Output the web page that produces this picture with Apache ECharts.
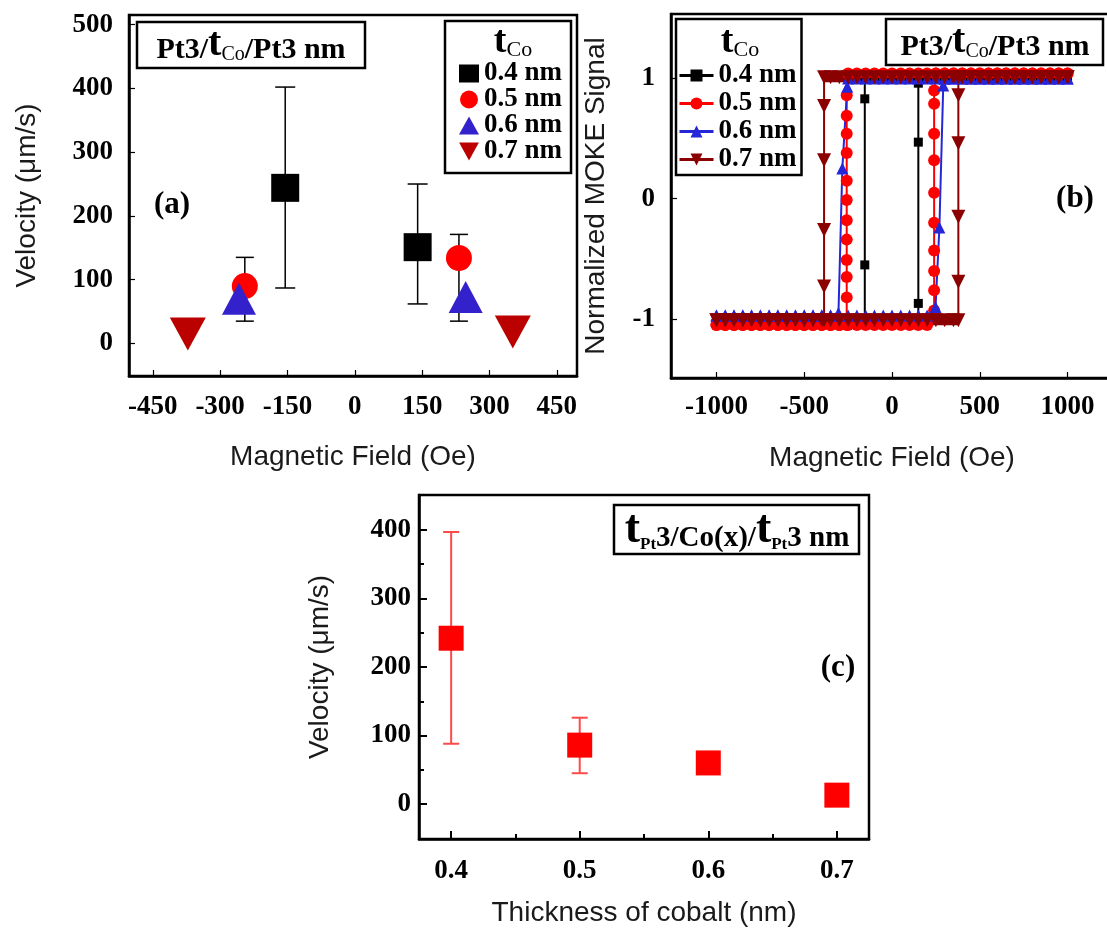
<!DOCTYPE html>
<html><head><meta charset="utf-8">
<script src="https://cdn.jsdelivr.net/npm/echarts@6/dist/echarts.min.js"></script>
<style>html,body{margin:0;padding:0;background:#fff}#c{width:1107px;height:931px}</style>
</head><body><div id="c"></div>
<script>
// ---------- Panel (a): velocity vs magnetic field ----------
const fieldTicksA = [-450, -300, -150, 0, 150, 300, 450];
const velTicksA = [0, 100, 200, 300, 400, 500];
const va04 = [[-155, 244], [140, 151]];
const va05 = [[-245, 90], [232, 134]];
const va06 = [[-258, 70], [247, 73]];
const va07 = [[-372, 15], [352, 18]];
const errA04 = [[-155, 87, 402], [140, 62, 250]];
const errA05 = [[-245, 35, 135], [232, 35, 171]];

// ---------- Panel (b): MOKE hysteresis loops ----------
const fieldTicksB = [-1000, -500, 0, 500, 1000];
const mokeTicksB = [-1, 0, 1];
const mokeDesc04 = [[1000,1],[900,1],[800,1],[700,1],[600,1],[500,1],[400,1],[300,1],[200,1],[100,1],[0,1],[-100,1],[-155,1],[-155,0.83],[-155,-0.55],[-155,-1],[-200,-1],[-300,-1],[-400,-1],[-500,-1],[-600,-1],[-700,-1],[-800,-1],[-900,-1],[-1000,-1]];
const mokeAsc04 = [[-1000,-1],[-900,-1],[-800,-1],[-700,-1],[-600,-1],[-500,-1],[-400,-1],[-300,-1],[-200,-1],[-100,-1],[0,-1],[100,-1],[150,-1],[150,-0.87],[150,0.47],[150,0.96],[150,1],[200,1],[300,1],[400,1],[500,1],[600,1],[700,1],[800,1],[900,1],[1000,1]];
const mokeDesc05 = [[1000,1.04],[950,1.04],[900,1.04],[850,1.04],[800,1.04],[750,1.04],[700,1.04],[650,1.04],[600,1.04],[550,1.04],[500,1.04],[450,1.04],[400,1.04],[350,1.04],[300,1.04],[250,1.04],[200,1.04],[150,1.04],[100,1.04],[50,1.04],[0,1.04],[-50,1.04],[-100,1.04],[-150,1.04],[-200,1.04],[-250,1.04],[-258,0.86],[-258,0.69],[-258,0.54],[-258,0.38],[-258,0.15],[-258,-0.01],[-258,-0.18],[-258,-0.34],[-258,-0.51],[-258,-0.65],[-258,-0.82],[-258,-1.05],[-300,-1.05],[-350,-1.05],[-400,-1.05],[-450,-1.05],[-500,-1.05],[-550,-1.05],[-600,-1.05],[-650,-1.05],[-700,-1.05],[-750,-1.05],[-800,-1.05],[-850,-1.05],[-900,-1.05],[-950,-1.05],[-1000,-1.05]];
const mokeAsc05 = [[-1000,-1.05],[-950,-1.05],[-900,-1.05],[-850,-1.05],[-800,-1.05],[-750,-1.05],[-700,-1.05],[-650,-1.05],[-600,-1.05],[-550,-1.05],[-500,-1.05],[-450,-1.05],[-400,-1.05],[-350,-1.05],[-300,-1.05],[-250,-1.05],[-200,-1.05],[-150,-1.05],[-100,-1.05],[-50,-1.05],[0,-1.05],[50,-1.05],[100,-1.05],[150,-1.05],[200,-1.05],[240,-0.93],[240,-0.76],[240,-0.6],[240,-0.43],[240,-0.2],[240,0.05],[240,0.32],[240,0.54],[240,0.79],[240,0.9],[250,1.04],[300,1.04],[350,1.04],[400,1.04],[450,1.04],[500,1.04],[550,1.04],[600,1.04],[650,1.04],[700,1.04],[750,1.04],[800,1.04],[850,1.04],[900,1.04],[950,1.04],[1000,1.04]];
const mokeDesc06 = [[1000,1],[950,1],[900,1],[850,1],[800,1],[750,1],[700,1],[650,1],[600,1],[550,1],[500,1],[450,1],[400,1],[350,1],[300,1],[250,1],[200,1],[150,1],[100,1],[50,1],[0,1],[-50,1],[-100,1],[-150,1],[-200,1],[-250,1],[-255,0.93],[-283,0.25],[-305,-0.95],[-350,-0.97],[-400,-0.97],[-450,-0.97],[-500,-0.97],[-550,-0.97],[-600,-0.97],[-650,-0.97],[-700,-0.97],[-750,-0.97],[-800,-0.97],[-850,-0.97],[-900,-0.97],[-950,-0.97],[-1000,-0.97]];
const mokeAsc06 = [[-1000,-0.97],[-950,-0.97],[-900,-0.97],[-850,-0.97],[-800,-0.97],[-750,-0.97],[-700,-0.97],[-650,-0.97],[-600,-0.97],[-550,-0.97],[-500,-0.97],[-450,-0.97],[-400,-0.97],[-350,-0.97],[-300,-0.97],[-250,-0.97],[-200,-0.97],[-150,-0.97],[-100,-0.97],[-50,-0.97],[0,-0.97],[50,-0.97],[100,-0.97],[150,-0.97],[200,-0.97],[248,-0.9],[270,-0.24],[292,0.94],[300,1],[350,1],[400,1],[450,1],[500,1],[550,1],[600,1],[650,1],[700,1],[750,1],[800,1],[850,1],[900,1],[950,1],[1000,1]];
const mokeDesc07 = [[1000,1.01],[950,1.01],[900,1.01],[850,1.01],[800,1.01],[750,1.01],[700,1.01],[650,1.01],[600,1.01],[550,1.01],[500,1.01],[450,1.01],[400,1.01],[350,1.01],[300,1.01],[250,1.01],[200,1.01],[150,1.01],[100,1.01],[50,1.01],[0,1.01],[-50,1.01],[-100,1.01],[-150,1.01],[-200,1.01],[-250,1.01],[-300,1.01],[-350,1.01],[-387,1.01],[-387,0.77],[-387,0.32],[-387,-0.26],[-387,-0.73],[-387,-1.01],[-450,-1.01],[-500,-1.01],[-550,-1.01],[-600,-1.01],[-650,-1.01],[-700,-1.01],[-750,-1.01],[-800,-1.01],[-850,-1.01],[-900,-1.01],[-950,-1.01],[-1000,-1.01]];
const mokeAsc07 = [[-1000,-1.01],[-950,-1.01],[-900,-1.01],[-850,-1.01],[-800,-1.01],[-750,-1.01],[-700,-1.01],[-650,-1.01],[-600,-1.01],[-550,-1.01],[-500,-1.01],[-450,-1.01],[-400,-1.01],[-350,-1.01],[-300,-1.01],[-250,-1.01],[-200,-1.01],[-150,-1.01],[-100,-1.01],[-50,-1.01],[0,-1.01],[50,-1.01],[100,-1.01],[150,-1.01],[200,-1.01],[250,-1.01],[300,-1.01],[350,-1.01],[378,-1.01],[378,-0.69],[378,-0.15],[378,0.46],[378,0.86],[378,1.01],[400,1.01],[450,1.01],[500,1.01],[550,1.01],[600,1.01],[650,1.01],[700,1.01],[750,1.01],[800,1.01],[850,1.01],[900,1.01],[950,1.01],[1000,1.01]];

// ---------- Panel (c): velocity vs cobalt thickness ----------
const thicknessC = [0.4, 0.5, 0.6, 0.7];
const velocityC = [242, 86, 60, 13];
const errC = [[0.4, 88, 397], [0.5, 45, 126]];
const thickTicksC = [0.4, 0.5, 0.6, 0.7];
const thickMinorC = [0.45, 0.55, 0.65];
const velTicksC = [0, 100, 200, 300, 400];
const velMinorC = [50, 150, 250, 350];

const SERIF = "'Liberation Serif','Times New Roman',serif";
const SANS = "'Liberation Sans',Arial,sans-serif";
const nameStyle = {fontFamily: SANS, fontSize: 28, color: '#1a1a1a'};

function errorBars(color, cap, width) {
  return function (params, api) {
    const x = api.value(0), lo = api.value(1), hi = api.value(2);
    const a = api.coord([x, lo]), b = api.coord([x, hi]);
    const st = {stroke: color, lineWidth: width, fill: null};
    return {type: 'group', children: [
      {type: 'line', shape: {x1: a[0], y1: a[1], x2: b[0], y2: b[1]}, style: st},
      {type: 'line', shape: {x1: a[0] - cap / 2, y1: a[1], x2: a[0] + cap / 2, y2: a[1]}, style: st},
      {type: 'line', shape: {x1: b[0] - cap / 2, y1: b[1], x2: b[0] + cap / 2, y2: b[1]}, style: st}
    ]};
  };
}

function axis(o) {
  const base = {
    type: 'value', gridIndex: o.grid, min: o.min, max: o.max,
    splitLine: {show: false},
    axisLine: {show: o.line !== false, onZero: false, lineStyle: {color: '#000', width: 2.5}},
    axisTick: {show: true, inside: true, length: o.tickLen || 6, customValues: o.ticks,
      lineStyle: {color: '#000', width: o.tickWidth || 1.2}},
    axisLabel: o.labels === false ? {show: false} : {customValues: o.ticks, color: '#000', fontFamily: SERIF,
      fontSize: o.fontSize || 27, fontWeight: 'bold', margin: o.margin, formatter: v => String(v)},
    nameMoveOverlap: false
  };
  if (o.position) base.position = o.position;
  if (o.name) {
    base.name = o.name; base.nameLocation = 'middle'; base.nameGap = o.nameGap; base.nameTextStyle = nameStyle;
  }
  return base;
}

const chart = echarts.init(document.getElementById('c'), null, {width: 1107, height: 931});

const tCoRich = {
  t: {fontFamily: SERIF, fontSize: 38, fontWeight: 'bold', fill: '#000', color: '#000', verticalAlign: 'bottom'},
  c: {fontFamily: SERIF, fontSize: 22, fill: '#000', color: '#000', verticalAlign: 'bottom'}
};
const stackRich = {
  n: {fontFamily: SERIF, fontSize: 30, fontWeight: 'bold', fill: '#000', color: '#000', verticalAlign: 'bottom'},
  t: {fontFamily: SERIF, fontSize: 40, fontWeight: 'bold', fill: '#000', color: '#000', verticalAlign: 'bottom'},
  s: {fontFamily: SERIF, fontSize: 20, fill: '#000', color: '#000', verticalAlign: 'bottom'}
};
const stackRichC = {
  n: {fontFamily: SERIF, fontSize: 29, fontWeight: 'bold', fill: '#000', color: '#000', verticalAlign: 'bottom'},
  t: {fontFamily: SERIF, fontSize: 46, fontWeight: 'bold', fill: '#000', color: '#000', verticalAlign: 'bottom'},
  s: {fontFamily: SERIF, fontSize: 17, fontWeight: 'bold', fill: '#000', color: '#000', verticalAlign: 'bottom'}
};
function txt(x, y, text, rich, font) {
  const st = {text: text, x: x, y: y, align: 'center', verticalAlign: 'middle', textAlign: 'center',
    textVerticalAlign: 'middle', fill: '#000'};
  if (rich) st.rich = rich;
  if (font) st.font = font;
  return {type: 'text', z: 100, style: st};
}
function box(x, y, w, h) {
  return {type: 'rect', z: 99, shape: {x: x, y: y, width: w, height: h},
    style: {fill: '#fff', stroke: '#000', lineWidth: 2.5}};
}

const lineSeries = (name, data, color, symbol, size, rotate) => ({
  type: 'line', name: name, xAxisIndex: 1, yAxisIndex: 1, data: data,
  symbol: symbol, symbolSize: size, symbolRotate: rotate || 0, showSymbol: true,
  lineStyle: {color: color, width: 2}, itemStyle: {color: color}, z: 3
});
// saturated (horizontal) parts of a branch, drawn as a dense band under the markers
const bandSeries = (data, color, width) => ({
  type: 'line', name: 'band', xAxisIndex: 1, yAxisIndex: 1,
  data: data.map(p => (Math.abs(p[1]) >= 0.97 ? p : [p[0], '-'])),
  symbol: 'none', connectNulls: false, silent: true,
  lineStyle: {color: color, width: width}, z: 3
});

const option = {
  backgroundColor: '#fff',
  animation: false,
  grid: [
    {left: 129, top: 15, width: 448, height: 361, show: true, borderColor: '#000', borderWidth: 2.5, outerBoundsMode: 'none'},
    {left: 671, top: 14, width: 442, height: 364, show: true, borderColor: '#000', borderWidth: 2.5, outerBoundsMode: 'none'},
    {left: 419, top: 495, width: 450, height: 344, show: true, borderColor: '#000', borderWidth: 2.5, outerBoundsMode: 'none'}
  ],
  xAxis: [
    axis({grid: 0, min: -503, max: 495, ticks: fieldTicksA, margin: 18, name: 'Magnetic Field (Oe)', nameGap: 67}),
    axis({grid: 1, min: -1259, max: 1259, ticks: fieldTicksB, margin: 16, name: 'Magnetic Field (Oe)', nameGap: 66}),
    axis({grid: 2, min: 0.375, max: 0.725, ticks: thickTicksC, margin: 19, tickLen: 8, tickWidth: 2,
      name: 'Thickness of cobalt (nm)', nameGap: 60}),
    axis({grid: 2, min: 0.375, max: 0.725, ticks: thickMinorC, labels: false, line: false, tickLen: 5, tickWidth: 2, position: 'bottom'})
  ],
  yAxis: [
    axis({grid: 0, min: -51, max: 515, ticks: velTicksA, margin: 16, name: 'Velocity (\u03bcm/s)', nameGap: 88}),
    axis({grid: 1, min: -1.49, max: 1.535, ticks: mokeTicksB, margin: 16, name: 'Normalized MOKE Signal', nameGap: 61}),
    axis({grid: 2, min: -51, max: 451, ticks: velTicksC, margin: 8, tickLen: 8, tickWidth: 2,
      name: 'Velocity (\u03bcm/s)', nameGap: 85}),
    axis({grid: 2, min: -51, max: 451, ticks: velMinorC, labels: false, line: false, tickLen: 5, tickWidth: 2, position: 'left'})
  ],
  legend: [
    {left: 445, top: 21, orient: 'vertical',
      data: ['a0.4', 'a0.5', 'a0.6', {name: 'a0.7', icon: 'path://M0,0 L22,0 L11,20 Z'}],
      formatter: n => n.slice(1) + ' nm', selectedMode: false,
      padding: [39, 9, 8, 14], itemWidth: 20, itemHeight: 18, itemGap: -1,
      textStyle: {fontFamily: SERIF, fontWeight: 'bold', fontSize: 27, color: '#000'},
      borderColor: '#000', borderWidth: 2.5, backgroundColor: '#fff', z: 50},
    {left: 676, top: 19, orient: 'vertical', data: ['b0.4', 'b0.5', 'b0.6', 'b0.7'],
      formatter: n => n.slice(1) + ' nm', selectedMode: false,
      padding: [43, 5, 2, 2], itemWidth: 34, itemHeight: 15, itemGap: 1,
      lineStyle: {width: 3},
      textStyle: {fontFamily: SERIF, fontWeight: 'bold', fontSize: 27, color: '#000'},
      borderColor: '#000', borderWidth: 2.5, backgroundColor: '#fff', z: 50}
  ],
  graphic: [
    box(137, 22, 228, 46),
    txt(251, 45, '{n|Pt3/}{t|t}{s|Co}{n|/Pt3 nm}', stackRich),
    txt(513, 42, '{t|t}{c|Co}', tCoRich),
    txt(172, 205, '(a)', null, "bold 31px 'Liberation Serif', serif"),
    box(886, 19, 217, 46),
    txt(995, 42, '{n|Pt3/}{t|t}{s|Co}{n|/Pt3 nm}', stackRich),
    txt(740, 42, '{t|t}{c|Co}', tCoRich),
    txt(1075, 199, '(b)', null, "bold 31px 'Liberation Serif', serif"),
    box(614, 505, 245, 49),
    txt(737, 530, '{t|t}{s|Pt}{n|3/Co(x)/}{t|t}{s|Pt}{n|3 nm}', stackRichC),
    txt(838, 668, '(c)', null, "bold 31px 'Liberation Serif', serif")
  ],
  series: [
    // panel (a)
    {type: 'custom', xAxisIndex: 0, yAxisIndex: 0, data: errA04, encode: {x: 0, y: [1, 2]},
      renderItem: errorBars('#000', 20, 1.5), z: 1},
    {type: 'custom', xAxisIndex: 0, yAxisIndex: 0, data: errA05, encode: {x: 0, y: [1, 2]},
      renderItem: errorBars('#000', 18, 1.5), z: 1},
    {type: 'scatter', name: 'a0.4', xAxisIndex: 0, yAxisIndex: 0, data: va04, symbol: 'rect', symbolSize: 28,
      itemStyle: {color: '#000', opacity: 1}, z: 2},
    {type: 'scatter', name: 'a0.5', xAxisIndex: 0, yAxisIndex: 0, data: va05, symbol: 'circle', symbolSize: 26,
      itemStyle: {color: '#ff0000', opacity: 1}, z: 2},
    {type: 'scatter', name: 'a0.6', xAxisIndex: 0, yAxisIndex: 0, data: va06, symbol: 'triangle', symbolSize: [34, 32],
      itemStyle: {color: '#3322cc', opacity: 1}, z: 2},
    {type: 'scatter', name: 'a0.7', xAxisIndex: 0, yAxisIndex: 0, data: va07, symbol: 'triangle', symbolSize: [36, 33],
      symbolRotate: 180, itemStyle: {color: '#bb0000', opacity: 1}, z: 2},
    // panel (b)
    lineSeries('b0.4', mokeDesc04, '#000', 'rect', 9),
    lineSeries('b0.4', mokeAsc04, '#000', 'rect', 9),
    lineSeries('b0.5', mokeDesc05, '#ff0000', 'circle', 12),
    lineSeries('b0.5', mokeAsc05, '#ff0000', 'circle', 12),
    lineSeries('b0.6', mokeDesc06, '#2626d9', 'triangle', 12),
    lineSeries('b0.6', mokeAsc06, '#2626d9', 'triangle', 12),
    bandSeries(mokeDesc05, '#ff0000', 7),
    bandSeries(mokeAsc05, '#ff0000', 7),
    bandSeries(mokeDesc07, '#8b0000', 10),
    bandSeries(mokeAsc07, '#8b0000', 10),
    lineSeries('b0.7', mokeDesc07, '#8b0000', 'triangle', 14, 180),
    lineSeries('b0.7', mokeAsc07, '#8b0000', 'triangle', 14, 180),
    // panel (c)
    {type: 'custom', xAxisIndex: 2, yAxisIndex: 2, data: errC, encode: {x: 0, y: [1, 2]},
      renderItem: errorBars('#ff4a4a', 16, 2), z: 1},
    {type: 'scatter', name: 'velocity', xAxisIndex: 2, yAxisIndex: 2,
      data: thicknessC.map((t, i) => [t, velocityC[i]]), symbol: 'rect', symbolSize: 25,
      itemStyle: {color: '#ff0000', opacity: 1}, z: 2}
  ]
};
chart.setOption(option);
</script>
</body></html>
